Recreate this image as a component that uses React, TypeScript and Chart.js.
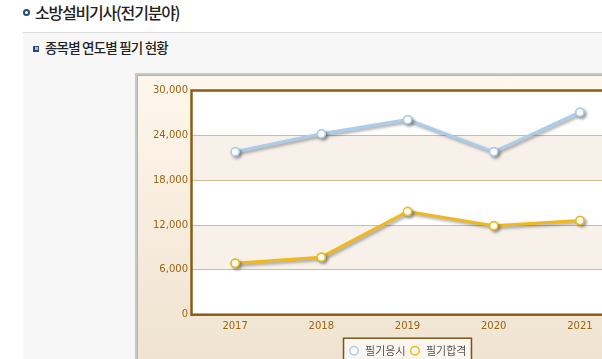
import React, { useEffect, useRef } from "react";
import Chart from "chart.js/auto";

const years = ["2017", "2018", "2019", "2020", "2021"];
const applicants = [21800, 24200, 26100, 21800, 27100];
const passers = [6900, 7700, 13800, 11900, 12600];
const seriesNames = ["필기응시", "필기합격"];
const yTicks = [0, 6000, 12000, 18000, 24000, 30000];

const TICK_COLOR = "#9a6512";
const BLUE = "#a9cdec";
const YELLOW = "#f0b818";

const plotDecor = {
  id: "plotDecor",
  beforeDraw(chart: any) {
    const { ctx, chartArea } = chart;
    const y = chart.scales.y;
    ctx.save();
    ctx.fillStyle = "#ffffff";
    ctx.fillRect(chartArea.left, chartArea.top, chartArea.right - chartArea.left, chartArea.bottom - chartArea.top);
    ctx.fillStyle = "#f8f1ea";
    const bands = [[18000, 24000], [6000, 12000]];
    bands.forEach(([a, b]) => {
      const y1 = y.getPixelForValue(b);
      const y2 = y.getPixelForValue(a);
      ctx.fillRect(chartArea.left, y1, chartArea.right - chartArea.left, y2 - y1);
    });
    const lg = chart.legend;
    if (lg && lg.legendHitBoxes && lg.legendHitBoxes.length) {
      const hb = lg.legendHitBoxes;
      const left = hb[0].left - 5;
      const last = hb[hb.length - 1];
      const right = last.left + last.width + 5;
      const top = hb[0].top - 7;
      ctx.fillStyle = "#fbf6ef";
      ctx.fillRect(left, top, right - left, 40);
      ctx.strokeStyle = "#7c5419";
      ctx.lineWidth = 1.5;
      ctx.strokeRect(left, top, right - left, 40);
    }
    ctx.restore();
  },
  beforeDatasetDraw(chart: any) {
    const c = chart.ctx;
    c.save();
    c.shadowColor = "rgba(60,60,60,0.45)";
    c.shadowBlur = 3;
    c.shadowOffsetX = 2;
    c.shadowOffsetY = 2;
  },
  afterDatasetDraw(chart: any, args: any) {
    chart.ctx.restore();
    const meta = args.meta;
    if (meta && meta.data) {
      meta.data.forEach((p: any) => p.draw(chart.ctx, chart.chartArea));
    }
  },
  afterDraw(chart: any) {
    const { ctx, chartArea } = chart;
    ctx.save();
    ctx.strokeStyle = "#8b5c14";
    ctx.lineWidth = 2.5;
    ctx.strokeRect(chartArea.left - 0.5, chartArea.top, chartArea.right - chartArea.left + 0.5, chartArea.bottom - chartArea.top);
    ctx.restore();
  },
};

function ChartCanvas() {
  const ref = useRef<HTMLCanvasElement | null>(null);
  useEffect(() => {
    if (!ref.current) return;
    const chart = new Chart(ref.current, {
      type: "line",
      data: {
        labels: years,
        datasets: [
          {
            label: seriesNames[0],
            data: applicants,
            borderColor: BLUE,
            backgroundColor: "#ffffff",
            borderWidth: 3,
            pointRadius: 4,
            pointBackgroundColor: "#ffffff",
            pointBorderColor: BLUE,
            pointBorderWidth: 1.5,
            pointStyle: "circle",
            tension: 0,
          },
          {
            label: seriesNames[1],
            data: passers,
            borderColor: YELLOW,
            backgroundColor: "#ffffff",
            borderWidth: 3,
            pointRadius: 4,
            pointBackgroundColor: "#ffffff",
            pointBorderColor: YELLOW,
            pointBorderWidth: 1.5,
            pointStyle: "circle",
            tension: 0,
          },
        ],
      },
      options: {
        animation: false,
        responsive: false,
        devicePixelRatio: 1,
        layout: { padding: { top: 14.5, right: 15, left: 0, bottom: 13.8 } },
        plugins: {
          tooltip: { enabled: false },
          legend: {
            position: "bottom",
            fullSize: false,
            labels: {
              usePointStyle: true,
              boxWidth: 12,
              boxHeight: 6,
              padding: 4,
              color: "#555555",
              font: { family: "'Noto Sans CJK KR', 'DejaVu Sans'", size: 11 },
            },
          },
        },
        scales: {
          x: {
            offset: true,
            grid: { display: false, drawTicks: false, offset: true },
            border: { display: false },
            ticks: { color: TICK_COLOR, font: { family: "'DejaVu Sans'", size: 10 }, padding: 6 },
            afterFit: (s: any) => {
              s.height = 26.5;
            },
          },
          y: {
            min: 0,
            max: 30000,
            afterBuildTicks: (s: any) => {
              s.ticks = yTicks.map((v) => ({ value: v }));
            },
            ticks: {
              color: TICK_COLOR,
              font: { family: "'DejaVu Sans'", size: 10 },
              padding: 4,
              callback: (v: any) => Number(v).toLocaleString("en-US"),
            },
            grid: { color: "#d6b992", lineWidth: 1, drawTicks: false },
            border: { display: false },
            afterFit: (s: any) => {
              s.width = 54;
            },
          },
        },
      },
      plugins: [plotDecor],
    });
    return () => chart.destroy();
  }, []);
  return (
    <canvas
      ref={ref}
      width={500}
      height={304}
      style={{ position: "absolute", left: 138, top: 76, width: 500, height: 304 }}
    />
  );
}

export default function App() {
  return (
    <div
      style={{
        position: "fixed",
        left: 0,
        top: 0,
        width: 602,
        height: 359,
        overflow: "hidden",
        background: "#ffffff",
        fontFamily: "'Noto Sans CJK KR', 'Noto Sans', sans-serif",
      }}
    >
      <div
        style={{
          position: "absolute",
          left: 23,
          top: 9,
          width: 3,
          height: 3,
          border: "2px solid #244b7c",
          borderRadius: "50%",
          background: "#fff",
        }}
      />
      <div
        style={{
          position: "absolute",
          left: 35,
          top: 0,
          height: 25,
          lineHeight: "25px",
          fontSize: 16,
          fontWeight: 500,
          letterSpacing: "-1.2px",
          color: "#222",
          whiteSpace: "nowrap",
        }}
      >
        소방설비기사(전기분야)
      </div>
      <div
        style={{
          position: "absolute",
          left: 23,
          top: 32,
          width: 700,
          height: 400,
          borderTop: "1px solid #dcdcdc",
          background: "#f7f7f7",
        }}
      />
      <div
        style={{
          position: "absolute",
          left: 33,
          top: 46,
          width: 3,
          height: 3,
          border: "1px solid #2a4a7a",
          borderLeftWidth: 2,
          borderBottomWidth: 2,
          background: "#a8bcd8",
        }}
      />
      <div
        style={{
          position: "absolute",
          left: 45,
          top: 37,
          height: 21,
          lineHeight: "21px",
          fontSize: 13.5,
          fontWeight: 500,
          letterSpacing: "-0.8px",
          color: "#222",
          whiteSpace: "nowrap",
        }}
      >
        종목별 연도별 필기 현황
      </div>
      <div
        style={{
          position: "absolute",
          left: 135,
          top: 73,
          width: 600,
          height: 400,
          border: "2px solid #c8c8c8",
          boxSizing: "border-box",
        }}
      >
        <div
          style={{
            position: "absolute",
            left: 0,
            top: 0,
            right: 0,
            bottom: 0,
            border: "1px solid #c9ad85",
            background: "linear-gradient(#fef7ec, #efe2cf 75%)",
          }}
        />
      </div>
      <ChartCanvas />
    </div>
  );
}
